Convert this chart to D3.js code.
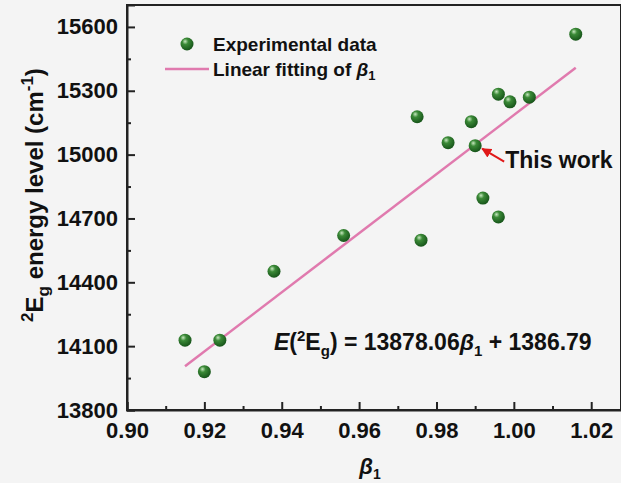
<!DOCTYPE html>
<html>
<head>
<meta charset="utf-8">
<script src="https://cdn.jsdelivr.net/npm/d3@7"></script>
<style>
  body { margin: 0; background: #f4f4f4; }
  svg { display: block; font-family: "Liberation Sans", Arial, sans-serif; }
</style>
</head>
<body>
<div id="chart"></div>
<script>
// Data
var beta1 = [0.915, 0.920, 0.924, 0.938, 0.956, 0.975, 0.976, 0.983, 0.989, 0.990, 0.992, 0.996, 0.996, 0.999, 1.004, 1.016];
var energy = [14128, 13980, 14128, 14452, 14620, 15178, 14598, 15056, 15155, 15042, 14796, 15284, 14707, 15248, 15270, 15566];
var fitX = [0.915, 1.016];
var fitY = [14006, 15408];
var xTicks = [0.90, 0.92, 0.94, 0.96, 0.98, 1.00, 1.02];
var yTicks = [13800, 14100, 14400, 14700, 15000, 15300, 15600];
var thisWork = { x: 0.990, y: 15042 };

var width = 621, height = 483;
var margin = { top: 5, right: 0, bottom: 73, left: 127 };
var w = width - margin.left - margin.right,
    h = height - margin.top - margin.bottom;

var svg = d3.select("#chart")
    .append("svg")
    .attr("width", width)
    .attr("height", height);

var defs = svg.append("defs");
var grad = defs.append("radialGradient")
    .attr("id", "ball")
    .attr("cx", "40%").attr("cy", "35%").attr("r", "65%")
    .attr("fx", "35%").attr("fy", "30%");
grad.append("stop").attr("offset", "0%").attr("stop-color", "#c8e8c0");
grad.append("stop").attr("offset", "35%").attr("stop-color", "#3b8a37");
grad.append("stop").attr("offset", "100%").attr("stop-color", "#17551a");

var marker = defs.append("marker")
    .attr("id", "arrow")
    .attr("viewBox", "0 0 10 10")
    .attr("refX", 9).attr("refY", 5)
    .attr("markerWidth", 5).attr("markerHeight", 5)
    .attr("orient", "auto");
marker.append("path").attr("d", "M0,0 L10,5 L0,10 Z").attr("fill", "#e01818");

var g = svg.append("g")
    .attr("transform", "translate(" + margin.left + "," + margin.top + ")");

var x = d3.scaleLinear().domain([0.90, 1.0277]).range([0, w]);
var y = d3.scaleLinear().domain([13800, 15703]).range([h, 0]);

// frame
g.append("rect")
    .attr("width", w).attr("height", h)
    .attr("fill", "none")
    .attr("stroke", "#222").attr("stroke-width", 2);

// minor ticks
var xMinor = d3.range(0.91, 1.03, 0.02);
var yMinor = d3.range(13950, 15700, 300);

g.append("g")
    .attr("transform", "translate(0," + h + ")")
    .call(d3.axisBottom(x).tickValues(xMinor).tickSize(-4).tickFormat(""))
    .call(s => s.select(".domain").remove())
    .selectAll("line").attr("stroke", "#222").attr("stroke-width", 2);

g.append("g")
    .call(d3.axisLeft(y).tickValues(yMinor).tickSize(-4).tickFormat(""))
    .call(s => s.select(".domain").remove())
    .selectAll("line").attr("stroke", "#222").attr("stroke-width", 2);

// major ticks and labels
var xAxis = g.append("g")
    .attr("transform", "translate(0," + h + ")")
    .call(d3.axisBottom(x).tickValues(xTicks).tickSize(-8).tickPadding(12).tickFormat(d3.format(".2f")));
xAxis.select(".domain").attr("stroke", "#222").attr("stroke-width", 2);
xAxis.selectAll("line").attr("stroke", "#222").attr("stroke-width", 2);
xAxis.selectAll("text")
    .attr("fill", "#111")
    .style("font-size", "22px")
    .style("font-weight", "bold");

var yAxis = g.append("g")
    .call(d3.axisLeft(y).tickValues(yTicks).tickSize(-8).tickPadding(9).tickFormat(d3.format("d")));
yAxis.select(".domain").attr("stroke", "#222").attr("stroke-width", 2);
yAxis.selectAll("line").attr("stroke", "#222").attr("stroke-width", 2);
yAxis.selectAll("text")
    .attr("fill", "#111")
    .style("font-size", "22px")
    .style("font-weight", "bold");

// fit line
var line = d3.line().x(d => x(d[0])).y(d => y(d[1]));
g.append("path")
    .datum(d3.zip(fitX, fitY))
    .attr("d", line)
    .attr("fill", "none")
    .attr("stroke", "#e07aae")
    .attr("stroke-width", 2.5);

// points
g.selectAll("circle.pt")
    .data(d3.zip(beta1, energy))
    .enter()
    .append("circle")
    .attr("class", "pt")
    .attr("cx", d => x(d[0]))
    .attr("cy", d => y(d[1]))
    .attr("r", 6.5)
    .attr("fill", "url(#ball)");

// "This work" arrow
var tx = x(thisWork.x), ty = y(thisWork.y);
g.append("line")
    .attr("x1", tx + 29).attr("y1", ty + 16)
    .attr("x2", tx + 7).attr("y2", ty + 3)
    .attr("stroke", "#e01818").attr("stroke-width", 2)
    .attr("marker-end", "url(#arrow)");
g.append("text")
    .attr("x", tx + 30).attr("y", ty + 22)
    .style("font-size", "23px").style("font-weight", "bold")
    .attr("fill", "#111")
    .text("This work");

// legend
var leg = g.append("g");
leg.append("circle").attr("cx", 60).attr("cy", 39).attr("r", 6.5).attr("fill", "url(#ball)");
leg.append("text").attr("x", 86).attr("y", 46)
    .style("font-size", "19px").style("font-weight", "bold").attr("fill", "#111")
    .text("Experimental data");
leg.append("line").attr("x1", 38).attr("x2", 82).attr("y1", 64).attr("y2", 64)
    .attr("stroke", "#e07aae").attr("stroke-width", 2.5);
var lt = leg.append("text").attr("x", 86).attr("y", 71)
    .style("font-size", "19px").style("font-weight", "bold").attr("fill", "#111");
lt.append("tspan").text("Linear fitting of ");
lt.append("tspan").style("font-style", "italic").text("\u03b2");
lt.append("tspan").attr("dy", 4).style("font-size", "13px").text("1");

// equation
var eq = g.append("text").attr("x", 147).attr("y", 345)
    .style("font-size", "23px").style("font-weight", "bold").attr("fill", "#111");
eq.append("tspan").style("font-style", "italic").text("E");
eq.append("tspan").text("(");
eq.append("tspan").attr("dy", -9).style("font-size", "15px").text("2");
eq.append("tspan").attr("dy", 9).text("E");
eq.append("tspan").attr("dy", 6).style("font-size", "15px").text("g");
eq.append("tspan").attr("dy", -6).text(") = 13878.06");
eq.append("tspan").style("font-style", "italic").text("\u03b2");
eq.append("tspan").attr("dy", 6).style("font-size", "15px").text("1");
eq.append("tspan").attr("dy", -6).text(" + 1386.79");

// x label
var xl = svg.append("text")
    .attr("x", 370).attr("y", 474)
    .attr("text-anchor", "middle")
    .style("font-size", "22px").style("font-weight", "bold").attr("fill", "#111");
xl.append("tspan").style("font-style", "italic").text("\u03b2");
xl.append("tspan").attr("dy", 5).style("font-size", "14px").text("1");

// y label
var yl = svg.append("text")
    .attr("transform", "translate(43,195) rotate(-90)")
    .attr("text-anchor", "middle")
    .style("font-size", "24px").style("font-weight", "bold").attr("fill", "#111");
yl.append("tspan").attr("dy", -10).style("font-size", "17px").text("2");
yl.append("tspan").attr("dy", 10).text("E");
yl.append("tspan").attr("dy", 6).style("font-size", "17px").text("g");
yl.append("tspan").attr("dy", -6).text(" energy level (cm");
yl.append("tspan").attr("dy", -10).style("font-size", "17px").text("-1");
yl.append("tspan").attr("dy", 10).text(")");
</script>
</body>
</html>
